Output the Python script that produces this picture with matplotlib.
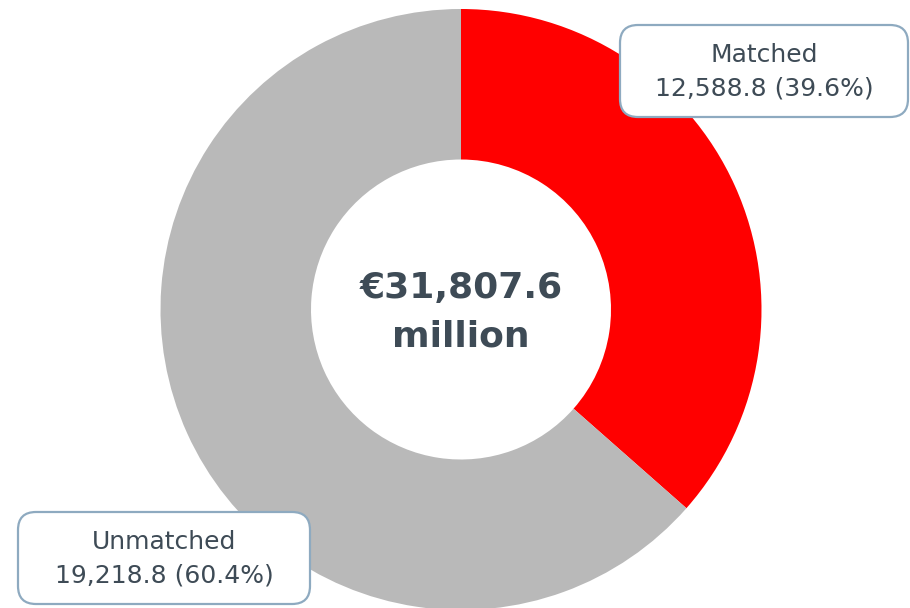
import matplotlib
matplotlib.use('Agg')
import matplotlib.pyplot as plt
from matplotlib.patches import FancyBboxPatch

plt.rcParams['font.family'] = ['DejaVu Sans']

# data
categories = ['Matched', 'Unmatched']
amounts = [12588.8, 19218.8]          # € million, as labelled
percents = [39.6, 60.4]
# slice shares as drawn in the reference picture
drawn_shares = [36.5, 63.5]
colors = ['#ff0000', '#b9b9b9']
total_label = '€31,807.6\nmillion'

W, H = 910, 608
fig = plt.figure(figsize=(W / 100, H / 100), dpi=100)
ax = fig.add_axes([0, 0, 1, 1])

cx, cy = 461, H - 309.5
R = 300.5
ax.pie(drawn_shares, colors=colors, startangle=90, counterclock=False,
       center=(cx, cy), radius=R, frame=True,
       wedgeprops=dict(width=R - 150, edgecolor='none', linewidth=0))
ax.set_xlim(0, W)
ax.set_ylim(0, H)
ax.set_aspect('equal')
ax.axis('off')

txt_color = '#3e4b56'
ax.text(cx, cy - 3, total_label, ha='center', va='center', fontsize=26,
        fontweight='bold', color=txt_color, linespacing=1.55)

# label boxes (x0, y0 from top, width, height in pixels)
boxes = [(620, 25, 288, 92), (18, 512, 292, 92)]
for (x0, y0, bw, bh), name, amt, pct in zip(boxes, categories, amounts, percents):
    patch = FancyBboxPatch((x0 + 14, H - y0 - bh + 14), bw - 28, bh - 28,
                           boxstyle='round,pad=14,rounding_size=18',
                           facecolor='white', edgecolor='#8eaac0', linewidth=1.6,
                           zorder=5)
    ax.add_patch(patch)
    ax.text(x0 + bw / 2, H - y0 - bh / 2 - 1, f'{name}\n{amt:,.1f} ({pct}%)',
            ha='center', va='center', fontsize=18, color=txt_color,
            linespacing=1.5, zorder=6)

fig.savefig('out.png', dpi=100)
